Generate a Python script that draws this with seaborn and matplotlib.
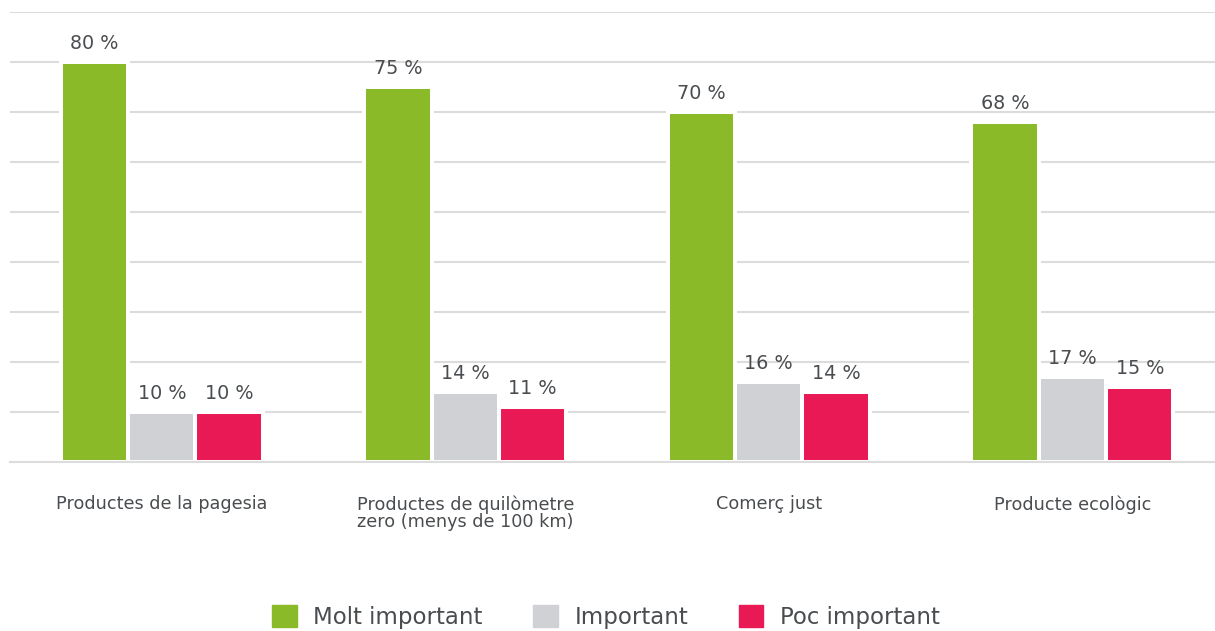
import numpy as np
import pandas as pd
import seaborn as sns
import matplotlib.pyplot as plt

# Data
categories = ['Productes de la pagesia',
              'Productes de quilòmetre\nzero (menys de 100 km)',
              'Comerç just',
              'Producte ecològic']
series = ['Molt important', 'Important', 'Poc important']
molt_important = [80, 75, 70, 68]
important = [10, 14, 16, 17]
poc_important = [10, 11, 14, 15]
colors = ['#8aba27', '#d0d1d4', '#e81955']

df = pd.DataFrame({
    'Categoria': categories * 3,
    'Serie': [s for s in series for _ in categories],
    'Valor': molt_important + important + poc_important,
})

sns.set_style('white')
plt.rcParams['font.family'] = ['DejaVu Sans']
text_color = '#4a4d50'
grid_color = '#dcdcdc'

fig = plt.figure(figsize=(12.15, 6.31), dpi=100)
ax = fig.add_axes([10 / 1215, 169 / 631, 1214 / 1215, 450 / 631])

sns.barplot(data=df, x='Categoria', y='Valor', hue='Serie', order=categories,
            hue_order=series, palette=colors, width=0.667, gap=0,
            edgecolor='white', linewidth=2.9, saturation=1, errorbar=None,
            legend=False, ax=ax)

# value labels
for container in ax.containers:
    ax.bar_label(container, labels=[f'{int(v)} %' for v in container.datavalues],
                 padding=6.5, fontsize=13.8, color=text_color)

ax.set_ylim(0, 90)
ax.set_xlim(-0.5, 3.5)
ax.set_yticks(np.arange(10, 91, 10))
ax.set_yticklabels([])
ax.tick_params(axis='y', length=0)
ax.set_axisbelow(True)
ax.yaxis.grid(True, color=grid_color, linewidth=1.5)
ax.xaxis.grid(False)

ax.set_xticks(range(len(categories)))
ax.set_xticklabels(categories, fontsize=12.7, color=text_color, linespacing=0.95)
for lbl in ax.get_xticklabels():
    lbl.set_multialignment('center')
ax.tick_params(axis='x', which='major', length=0, pad=24)
ax.set_xticks([-0.5, 0.5, 1.5, 2.5], minor=True)
ax.tick_params(axis='x', which='minor', length=5, width=1.5, color=grid_color)
ax.set_xlabel('')
ax.set_ylabel('')

for s in ['top', 'left', 'right']:
    ax.spines[s].set_visible(False)
ax.spines['bottom'].set_color(grid_color)
ax.spines['bottom'].set_linewidth(1.5)

handles = [plt.Rectangle((0, 0), 1, 1, color=c) for c in colors]
fig.legend(handles, series, loc='center', bbox_to_anchor=(606 / 1215, 1 - 617 / 631),
           ncol=3, frameon=False, fontsize=16.5, labelcolor=text_color,
           handlelength=1.08, handleheight=1.08, handletextpad=0.72, columnspacing=2.2)

fig.savefig('out.png', dpi=100)
